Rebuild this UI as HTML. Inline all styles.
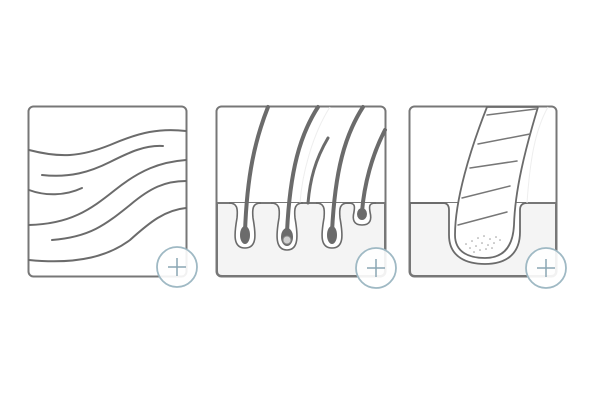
<!DOCTYPE html>
<html><head><meta charset="utf-8"><style>html,body{margin:0;padding:0;background:#fff}svg{display:block}</style></head>
<body>
<svg width="600" height="400" viewBox="0 0 600 400" xmlns="http://www.w3.org/2000/svg">
<g fill="none" stroke="#6b6b6b" stroke-width="2" stroke-linecap="round">
<rect x="28.5" y="106.5" width="158" height="170" rx="5" fill="#fff" stroke="#777"/>
<path d="M29,150 C60,158 80,157 110,145 C140,132 160,128 186,131"/>
<path d="M42,175 C70,178 90,172 110,162 C130,152 145,145 163,146"/>
<path d="M29,190 C45,196 65,196 82,188"/>
<path d="M29,225 C70,224 90,210 115,190 C140,170 160,162 186,160"/>
<path d="M52,240 C90,237 105,225 130,205 C150,188 165,181 186,181"/>
<path d="M29,260 C80,265 110,255 130,240 C150,222 165,210 186,208"/>
</g>
<g stroke="#777" stroke-width="2">
<rect x="216.5" y="106.5" width="169" height="170" rx="5" fill="#fff"/>
<path d="M217,203 H385 V271 Q385,276 380,276 H222 Q217,276 217,271 Z" fill="#f4f4f4"/>
</g>
<g fill="none" stroke="#eee" stroke-width="1"><path d="M330,107 C312,135 302,175 300,203"/></g>
<g fill="#fff" stroke="#6b6b6b" stroke-width="1.6">
<path d="M229,203 C237,203 238,208 237,218 C234,235 233,248 245,248 C257,248 256,235 253,218 C252,208 253,203 261,203"/>
<path d="M271,203 C279,203 280,208 279,218 C276,235 275,250 287,250 C299,250 298,235 295,218 C294,208 295,203 303,203"/>
<path d="M316,203 C324,203 325,208 324,218 C321,235 320,248 332,248 C344,248 343,235 340,218 C339,208 340,203 348,203"/>
<path d="M348,203 C355,203 355,206 354,212 C352,220 354,225 362,225 C370,225 372,220 370,212 C369,206 369,203 376,203"/>
</g>
<g fill="none" stroke="#6b6b6b" stroke-linecap="round">
<path d="M268,107 C255,140 247,175 245,232" stroke-width="4"/>
<path d="M318,107 C300,135 290,170 287,232" stroke-width="4"/>
<path d="M328,138 C315,160 310,180 308,203" stroke-width="3"/>
<path d="M363,107 C345,135 335,170 332,232" stroke-width="4"/>
<path d="M385,130 C372,155 364,185 362,212" stroke-width="4"/>
</g>
<g fill="#6b6b6b">
<ellipse cx="245" cy="235" rx="5" ry="9"/>
<ellipse cx="287" cy="237" rx="6" ry="9"/>
<ellipse cx="332" cy="235" rx="5" ry="9"/>
<ellipse cx="362" cy="214" rx="5" ry="6"/>
</g>
<circle cx="287" cy="240" r="4" fill="#d0d0d0" stroke="#888" stroke-width="1"/>
<g stroke="#777" stroke-width="2">
<rect x="409.5" y="106.5" width="147" height="170" rx="5" fill="#fff"/>
<path d="M410,203 H556 V271 Q556,276 551,276 H415 Q410,276 410,271 Z" fill="#f4f4f4"/>
</g>
<path d="M410,203 L443,203 Q449,203 449,210 L449,235 C449,258 468,264 485,264 C505,264 520,255 520,232 L520,210 Q520,203 527,203" fill="#fff" stroke="#6b6b6b" stroke-width="1.8"/>
<path d="M538,107 L487,107 C470,150 455,200 455,235 C455,253 470,258 485,258 C505,258 513,245 514,225 C515,190 525,150 538,107" fill="#fff" stroke="#6b6b6b" stroke-width="1.8"/>
<path d="M548,107 C535,130 530,160 527,203" fill="none" stroke="#eee" stroke-width="1"/>
<g stroke="#777" stroke-width="1.5" stroke-linecap="round">
<line x1="487" y1="115" x2="536" y2="109"/>
<line x1="478" y1="144" x2="530" y2="134"/>
<line x1="470" y1="168" x2="517" y2="161"/>
<line x1="462" y1="198" x2="510" y2="186"/>
<line x1="458" y1="225" x2="507" y2="212"/>
</g>
<g fill="#999">
<circle cx="466" cy="244" r="0.8"/><circle cx="472" cy="241" r="0.8"/><circle cx="478" cy="238" r="0.8"/><circle cx="484" cy="236" r="0.8"/><circle cx="490" cy="239" r="0.8"/><circle cx="496" cy="237" r="0.8"/>
<circle cx="470" cy="248" r="0.8"/><circle cx="476" cy="246" r="0.8"/><circle cx="482" cy="243" r="0.8"/><circle cx="488" cy="245" r="0.8"/><circle cx="494" cy="243" r="0.8"/><circle cx="500" cy="240" r="0.8"/>
<circle cx="474" cy="252" r="0.8"/><circle cx="480" cy="250" r="0.8"/><circle cx="486" cy="249" r="0.8"/><circle cx="492" cy="248" r="0.8"/>
</g>
<g fill="#fff" fill-opacity="0.9" stroke="#9fb9c4" stroke-width="1.8">
<circle cx="177" cy="267" r="20"/>
<circle cx="376" cy="268" r="20"/>
<circle cx="546" cy="268" r="20"/>
</g>
<g stroke="#8aa6b3" stroke-width="1.5">
<path d="M177,258 V276 M168,267 H186"/>
<path d="M376,259 V277 M367,268 H385"/>
<path d="M546,259 V277 M537,268 H555"/>
</g>
</svg>
</body></html>
